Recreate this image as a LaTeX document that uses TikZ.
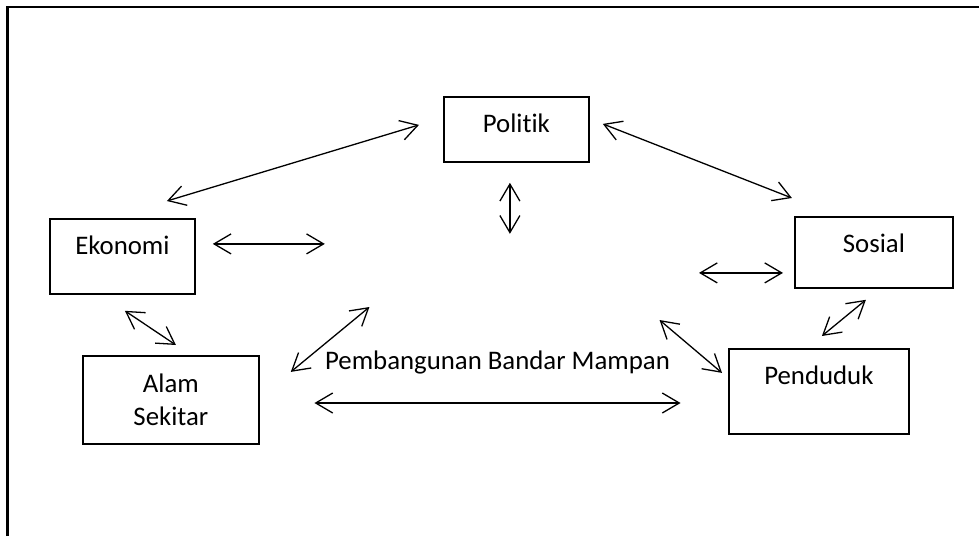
\documentclass[tikz,border=0pt]{standalone}
\usepackage{fontspec}
\setmainfont{Carlito}[Ligatures={NoCommon}]
\usetikzlibrary{arrows.meta}

\begin{document}
\begin{tikzpicture}[x=1pt,y=-1pt,font=\fontsize{26.8}{33}\selectfont]
        \tikzstyle{every path}=[line width=1.3pt]
        \tikzstyle{box} = [draw, rectangle, line width=1.8pt, anchor=north west, inner ysep=0pt]
        \tikzstyle{link} = [<->, >={Straight Barb[length=17pt,width=20pt]}]
        \useasboundingbox (0,0) rectangle (979,536);
        \draw[line width=2.5pt] (7.5,536) -- (7.5,7) -- (979,7);
        \node[box, minimum width=145pt, text height=36pt, text depth=29pt](politik) at (443,96) {Politik};
        \node[box, minimum width=145pt, text height=36pt, text depth=39pt](ekonomi) at (49,218) {Ekonomi};
        \node[box, minimum width=158pt, text height=36pt, text depth=35pt](sosial) at (794,216) {Sosial};
        \node[box, minimum width=180pt, text height=36pt, text depth=49pt](penduduk) at (728,348) {Penduduk};
        \node[box, minimum width=176pt, minimum height=88pt, align=center](alam) at (82,355) {Alam\\Sekitar};
        \node[inner sep=0pt, anchor=base](bandar) at (497.5,369) {Pembangunan Bandar Mampan};
        \draw[link] ([shift={(-24,-4.5)}]politik.west) -- ([shift={(44.5,-17)}]ekonomi.north);
        \draw[link] ([shift={(13,-5.5)}]politik.east) -- ([shift={(-82,-18)}]sosial.north);
        \draw[link] ([shift={(-6.5,20)}]politik.south) -- ([shift={(-6.5,71)}]politik.south);
        \draw[link] ([shift={(17,-12.5)}]ekonomi.east) -- ([shift={(129,-12.5)}]ekonomi.east);
        \draw[link] ([shift={(-95,20.5)}]sosial.west) -- ([shift={(-11,20.5)}]sosial.west);
        \draw[link] ([shift={(2.5,16)}]ekonomi.south) -- ([shift={(5,-10)}]alam.north);
        \draw[link] ([shift={(45,-62)}]bandar.base west) -- ([shift={(31,-28)}]alam.east);
        \draw[link] ([shift={(-10,34)}]bandar.base west) -- ([shift={(10,34)}]bandar.base east);
        \draw[link] ([shift={(-11,-49)}]bandar.base east) -- ([shift={(-6,-18.5)}]penduduk.west);
        \draw[link] ([shift={(-8,11)}]sosial.south) -- ([shift={(3,-12)}]penduduk.north);
    \end{tikzpicture}
\end{document}
